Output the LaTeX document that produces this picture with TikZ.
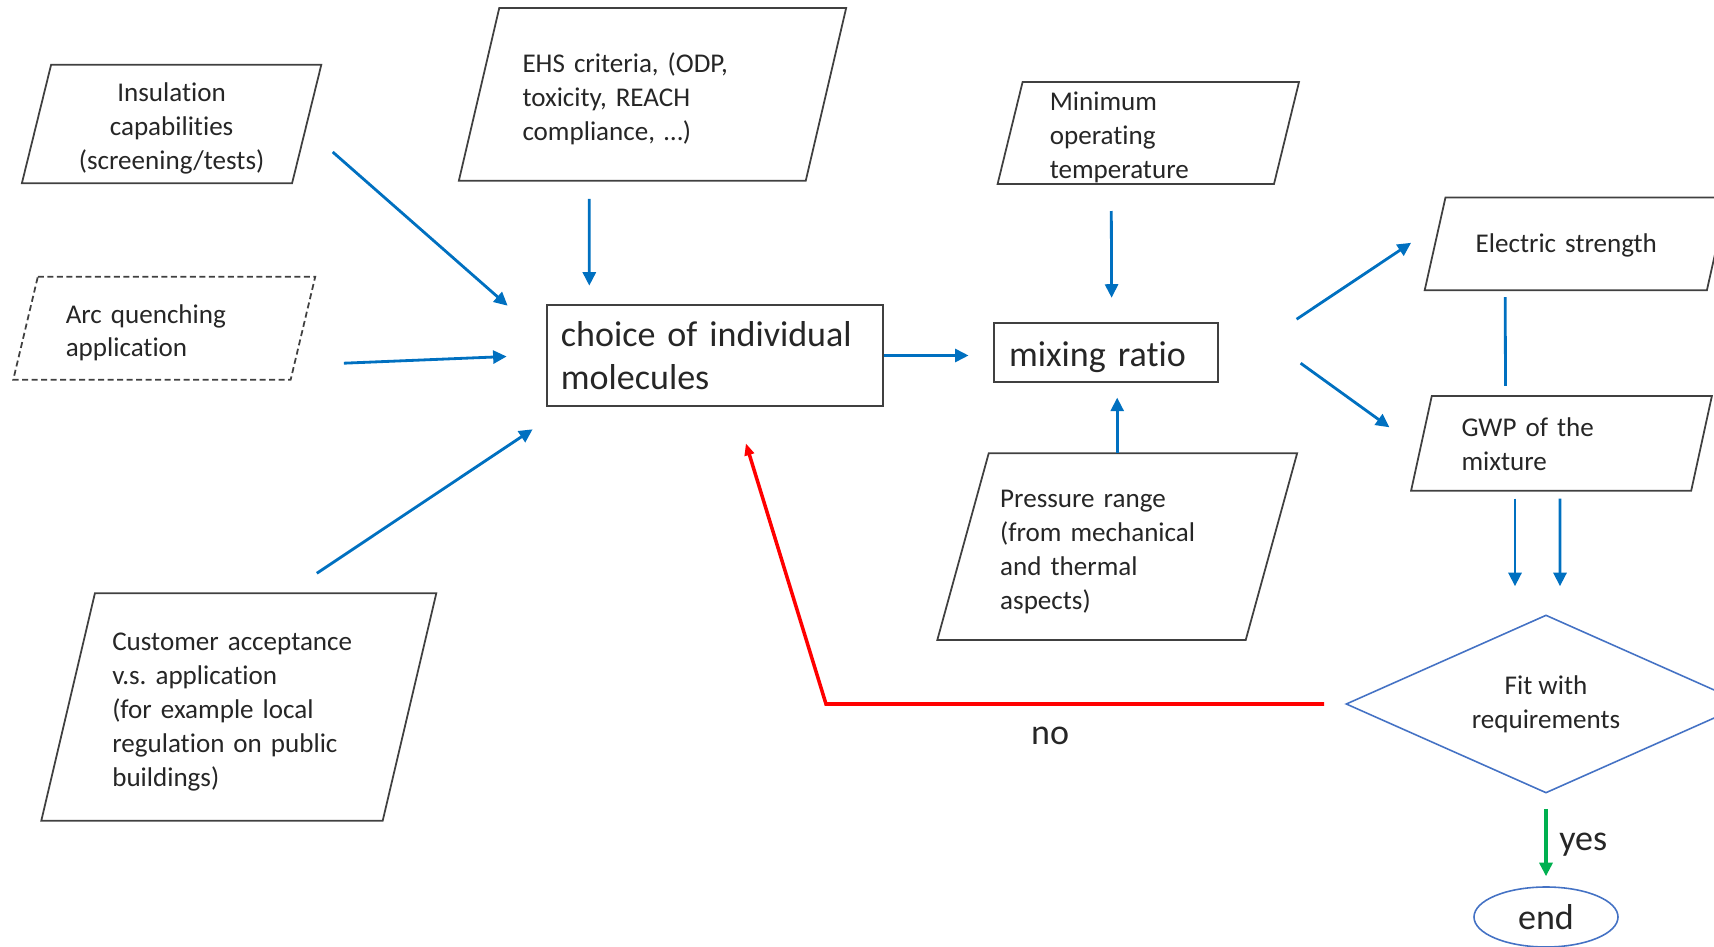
\documentclass[tikz,border=0pt]{standalone}
\usepackage{fontspec}
\setmainfont{Carlito}[Ligatures=NoCommon]
\frenchspacing
\usetikzlibrary{arrows.meta,shapes.geometric}

\definecolor{flowblue}{RGB}{0,112,192}
\definecolor{nored}{RGB}{255,0,0}
\definecolor{yesgreen}{RGB}{0,176,80}
\definecolor{decblue}{RGB}{68,114,196}
\newcommand\smalltxt{\fontsize{7.7}{9.65}\selectfont}
\newcommand\bigtxt{\fontsize{10.25}{12.4}\selectfont}

\tikzset{
  boxline/.style={draw=black!75, line width=0.5pt},
  slanted/.style 2 args={inner sep=0pt, align=left, text=black!85, font=\smalltxt, text height=2.8mm,
    append after command={\pgfextra{\draw[boxline,#2] ([xshift=#1]\tikzlastnode.north west) -- ([xshift=#1]\tikzlastnode.north east) -- ([xshift=-#1]\tikzlastnode.south east) -- ([xshift=-#1]\tikzlastnode.south west) -- cycle;}}},
  plainbox/.style={draw=black!75, line width=0.55pt, inner sep=0pt, align=left, text=black!85, font=\bigtxt},
  decision/.style={draw=decblue, line width=0.45pt, inner sep=0pt, text=black!85},
  flow/.style={draw=flowblue, line width=0.8pt, -{Triangle[length=1.35mm,width=1.3mm]}},
  noline/.style={draw=nored, line width=1pt, -{Triangle[length=1.2mm,width=0.95mm]}},
  yesline/.style={draw=yesgreen, line width=0.9pt, -{Triangle[length=1.35mm,width=1.3mm]}}
}

\begin{document}
\begin{tikzpicture}

\useasboundingbox (0,0) rectangle (17.14,-9.47);

% inputs
\node[slanted={1.46mm}{}, align=center, text width=2.4cm, minimum width=2.688cm, minimum height=1.17cm] (ins) at (1.716,-1.24) {Insulation\\capabilities\\(screening/tests)};
\node[slanted={2.02mm}{}, text width=2.6cm, minimum width=3.455cm, minimum height=1.713cm] (ehs) at (6.525,-0.944) {EHS criteria, (ODP,\\toxicity, REACH\\compliance, …)};
\node[slanted={1.23mm}{dashed,dash pattern=on 0.6mm off 0.35mm}, text width=1.97cm, minimum width=2.76cm, minimum height=1.017cm] (arc) at (1.6425,-3.282) {Arc quenching\\application};
\node[slanted={2.68mm}{}, text width=2.53cm, minimum width=3.40cm, minimum height=2.26cm] (cust) at (2.388,-7.07) {Customer acceptance\\v.s. application\\(for example local\\regulation on public\\buildings)};
\node[slanted={1.25mm}{}, text width=1.97cm, minimum width=2.75cm, minimum height=1.006cm] (mintemp) at (11.483,-1.33) {Minimum\\operating\\temperature};
\node[slanted={2.57mm}{}, text width=2.34cm, minimum width=3.07cm, minimum height=1.853cm] (pressure) at (11.172,-5.467) {Pressure range\\(from mechanical\\and thermal\\aspects)};

% steps
\node[plainbox, text width=3.08cm, minimum width=3.366cm, minimum height=1.017cm] (choice) at (7.149,-3.555) {choice of individual\\molecules};
\node[plainbox, text width=1.93cm, text height=3.4mm, minimum width=2.241cm, minimum height=0.59cm] (mixing) at (11.056,-3.522) {mixing ratio};

% outputs
\node[slanted={1.04mm}{}, text width=2.01cm, text height=2.3mm, minimum width=2.808cm, minimum height=0.914cm] (electric) at (15.762,-2.438) {Electric strength};
\node[slanted={1.035mm}{}, text width=2.0cm, text height=2.0mm, minimum width=2.787cm, minimum height=0.933cm] (gwp) at (15.615,-4.433) {GWP of the\\mixture};

\node[decision, diamond, shape aspect=2.25, minimum width=4cm, minimum height=1.78cm, align=center, font=\smalltxt] (fit) at (15.46,-7.04) {Fit with\\requirements};
\node[decision, ellipse, minimum width=1.44cm, minimum height=0.6cm, font=\bigtxt] (stop) at (15.46,-9.17) {end};
\coordinate (turn) at (8.26,-7.04);

% connectors
\draw[flow] ([shift={(0.26,-0.28)}]ins.east) -- ([shift={(-0.38,-0.02)}]choice.north west);
\draw[flow] ([shift={(-0.632,-0.18)}]ehs.south) -- ([shift={(-1.256,0.18)}]choice.north);
\draw[flow] ([shift={(0.41,-0.35)}]arc.east) -- ([shift={(-0.39,-0.01)}]choice.west);
\draw[flow] ([shift={(0.78,0.2)}]cust.north) -- ([shift={(-0.13,-0.22)}]choice.south west);
\draw[flow, shorten >=0.24cm] (choice.east) -- (choice.east -| mixing.west);
\draw[flow] ([shift={(-0.37,-0.27)}]mintemp.south) -- ([shift={(0.06,0.24)}]mixing.north);
\draw[flow, shorten >=0.15cm] (pressure.north) -- (pressure.north |- mixing.south);
\draw[flow] ([shift={(0.78,0.33)}]mixing.east) -- ([shift={(-0.24,0.01)}]electric.west);
\draw[flow] ([shift={(0.82,-0.11)}]mixing.east) -- ([shift={(-0.32,0.16)}]gwp.west);
\draw[flow, -] ([shift={(-0.71,-0.07)}]electric.south) -- ([shift={(-0.56,0.1)}]gwp.north);
\draw[flow] ([shift={(-0.465,-0.08)}]gwp.south) -- ([shift={(-0.31,0.28)}]fit.north);
\draw[flow] ([shift={(-0.015,-0.08)}]gwp.south) -- ([shift={(0.14,0.28)}]fit.north);

\draw[noline] ([xshift=-0.21cm]fit.west) -- node[below=0.1cm, pos=0.55, font=\bigtxt, text=black!85] (nolabel) {no} (turn) -- ([shift={(0.31,-0.36)}]choice.south);
\draw[yesline, shorten <=0.15cm, shorten >=0.1cm] (fit.south) -- node[right, pos=0.55, font=\bigtxt, text=black!85] (yeslabel) {yes} (stop.north);

\end{tikzpicture}
\end{document}
